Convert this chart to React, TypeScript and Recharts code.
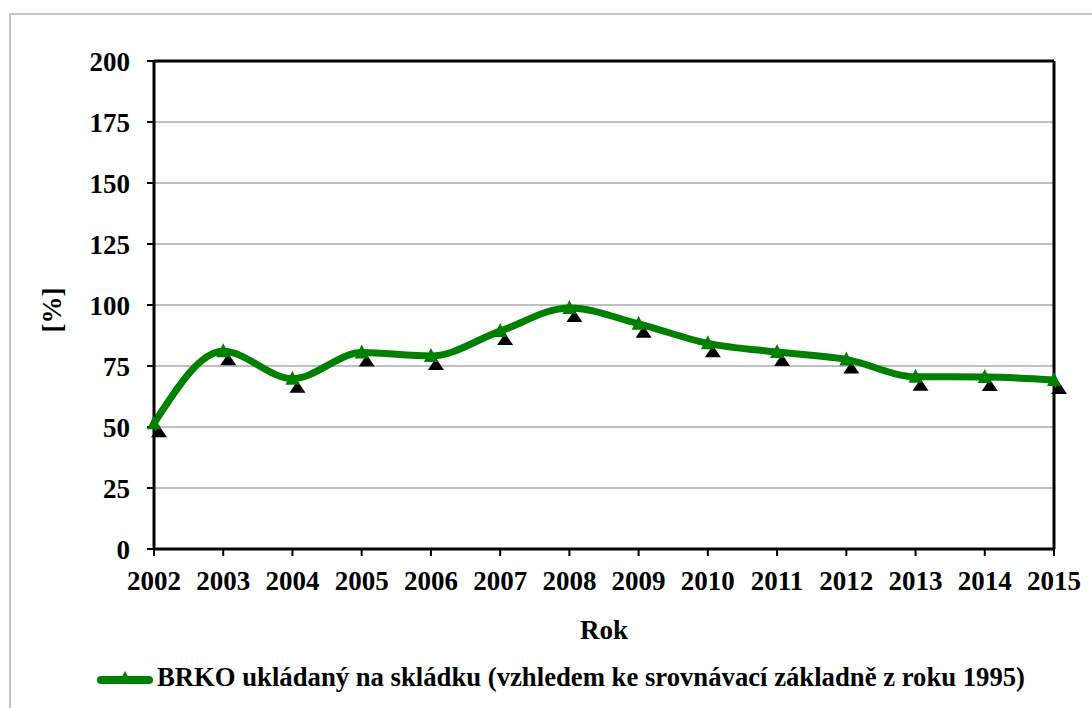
import React from 'react';
import {
  LineChart,
  Line,
  XAxis,
  YAxis,
  CartesianGrid,
  ReferenceLine,
} from 'recharts';

const YEARS = ['2002', '2003', '2004', '2005', '2006', '2007', '2008', '2009', '2010', '2011', '2012', '2013', '2014', '2015'];
const BRKO = [51.5, 81, 69.8, 80.5, 79.1, 89.3, 98.8, 92.3, 84.3, 80.7, 77.7, 70.6, 70.5, 69.3];
const Y_TICKS = [0, 25, 50, 75, 100, 125, 150, 175, 200];
const SERIES_NAME = 'BRKO ukládaný na skládku (vzhledem ke srovnávací základně z roku 1995)';

const GREEN = '#008000';
const FONT = '"Liberation Serif", "Times New Roman", serif';

const data = YEARS.map((rok, i) => ({ rok, brko: BRKO[i] }));

// green triangle with a black "shadow" triangle under it, like the Excel marker
const TriangleDot = (props: any) => {
  const { cx, cy, index } = props;
  if (cx == null || cy == null) return null;
  return (
    <g key={`dot-${index}`}>
      <polygon
        points={`${cx + 5},${cy + 2} ${cx - 3},${cy + 14} ${cx + 13},${cy + 14}`}
        fill="#000"
      />
      <polygon
        points={`${cx},${cy - 8} ${cx - 7},${cy + 6} ${cx + 7},${cy + 6}`}
        fill={GREEN}
      />
    </g>
  );
};

const tickStyle = { fontSize: 27, fontWeight: 700, fill: '#000', fontFamily: FONT };

export default function App() {
  return (
    <div style={{ position: 'absolute', left: 0, top: 0, width: 1092, height: 708, background: '#fff', overflow: 'hidden' }}>
      <div
        style={{
          position: 'absolute',
          left: 9,
          top: 13,
          width: 1200,
          height: 800,
          borderTop: '2px solid #c6c6c6',
          borderLeft: '2px solid #c6c6c6',
        }}
      />
      <div style={{ position: 'absolute', left: 0, top: 0 }}>
        <LineChart width={1092} height={708} data={data} margin={{ top: 61, right: 38, left: 0, bottom: 99 }}>
          <CartesianGrid vertical={false} stroke="#c0c0c0" strokeWidth={2} />
          <XAxis
            dataKey="rok"
            height={60}
            axisLine={{ stroke: '#000', strokeWidth: 3 }}
            tickLine={{ stroke: '#000', strokeWidth: 2 }}
            tickSize={7}
            tickMargin={15}
            tick={tickStyle}
            interval={0}
            label={{
              content: ({ viewBox }: any) => (
                <text
                  x={viewBox.x + viewBox.width / 2}
                  y={630}
                  textAnchor="middle"
                  dominantBaseline="central"
                  style={tickStyle}
                >
                  Rok
                </text>
              ),
            }}
          />
          <YAxis
            width={154}
            domain={[0, 200]}
            ticks={Y_TICKS}
            interval={0}
            axisLine={{ stroke: '#000', strokeWidth: 3 }}
            tickLine={{ stroke: '#000', strokeWidth: 2 }}
            tickSize={7}
            tickMargin={17}
            tick={tickStyle}
            label={{
              content: ({ viewBox }: any) => {
                const x = 52;
                const y = viewBox.y + viewBox.height / 2 + 5;
                return (
                  <text
                    x={x}
                    y={y}
                    textAnchor="middle"
                    dominantBaseline="central"
                    transform={`rotate(-90 ${x} ${y})`}
                    style={tickStyle}
                  >
                    [%]
                  </text>
                );
              },
            }}
          />
          <ReferenceLine y={200} stroke="#000" strokeWidth={3} />
          <ReferenceLine x="2015" stroke="#000" strokeWidth={3} />
          <Line
            type="monotone"
            dataKey="brko"
            name={SERIES_NAME}
            stroke={GREEN}
            strokeWidth={7}
            dot={<TriangleDot />}
            activeDot={false}
            isAnimationActive={false}
          />
        </LineChart>
      </div>
      <div
        style={{
          position: 'absolute',
          left: 97,
          top: 662,
          display: 'flex',
          alignItems: 'center',
          fontFamily: FONT,
          fontWeight: 700,
          fontSize: 26.7,
          whiteSpace: 'nowrap',
        }}
      >
        <svg width={60} height={30}>
          <line x1={4} y1={17} x2={52} y2={17} stroke={GREEN} strokeWidth={8} strokeLinecap="round" />
          <polygon points="28,8 21,21 35,21" fill={GREEN} />
        </svg>
        <span>{SERIES_NAME}</span>
      </div>
    </div>
  );
}
